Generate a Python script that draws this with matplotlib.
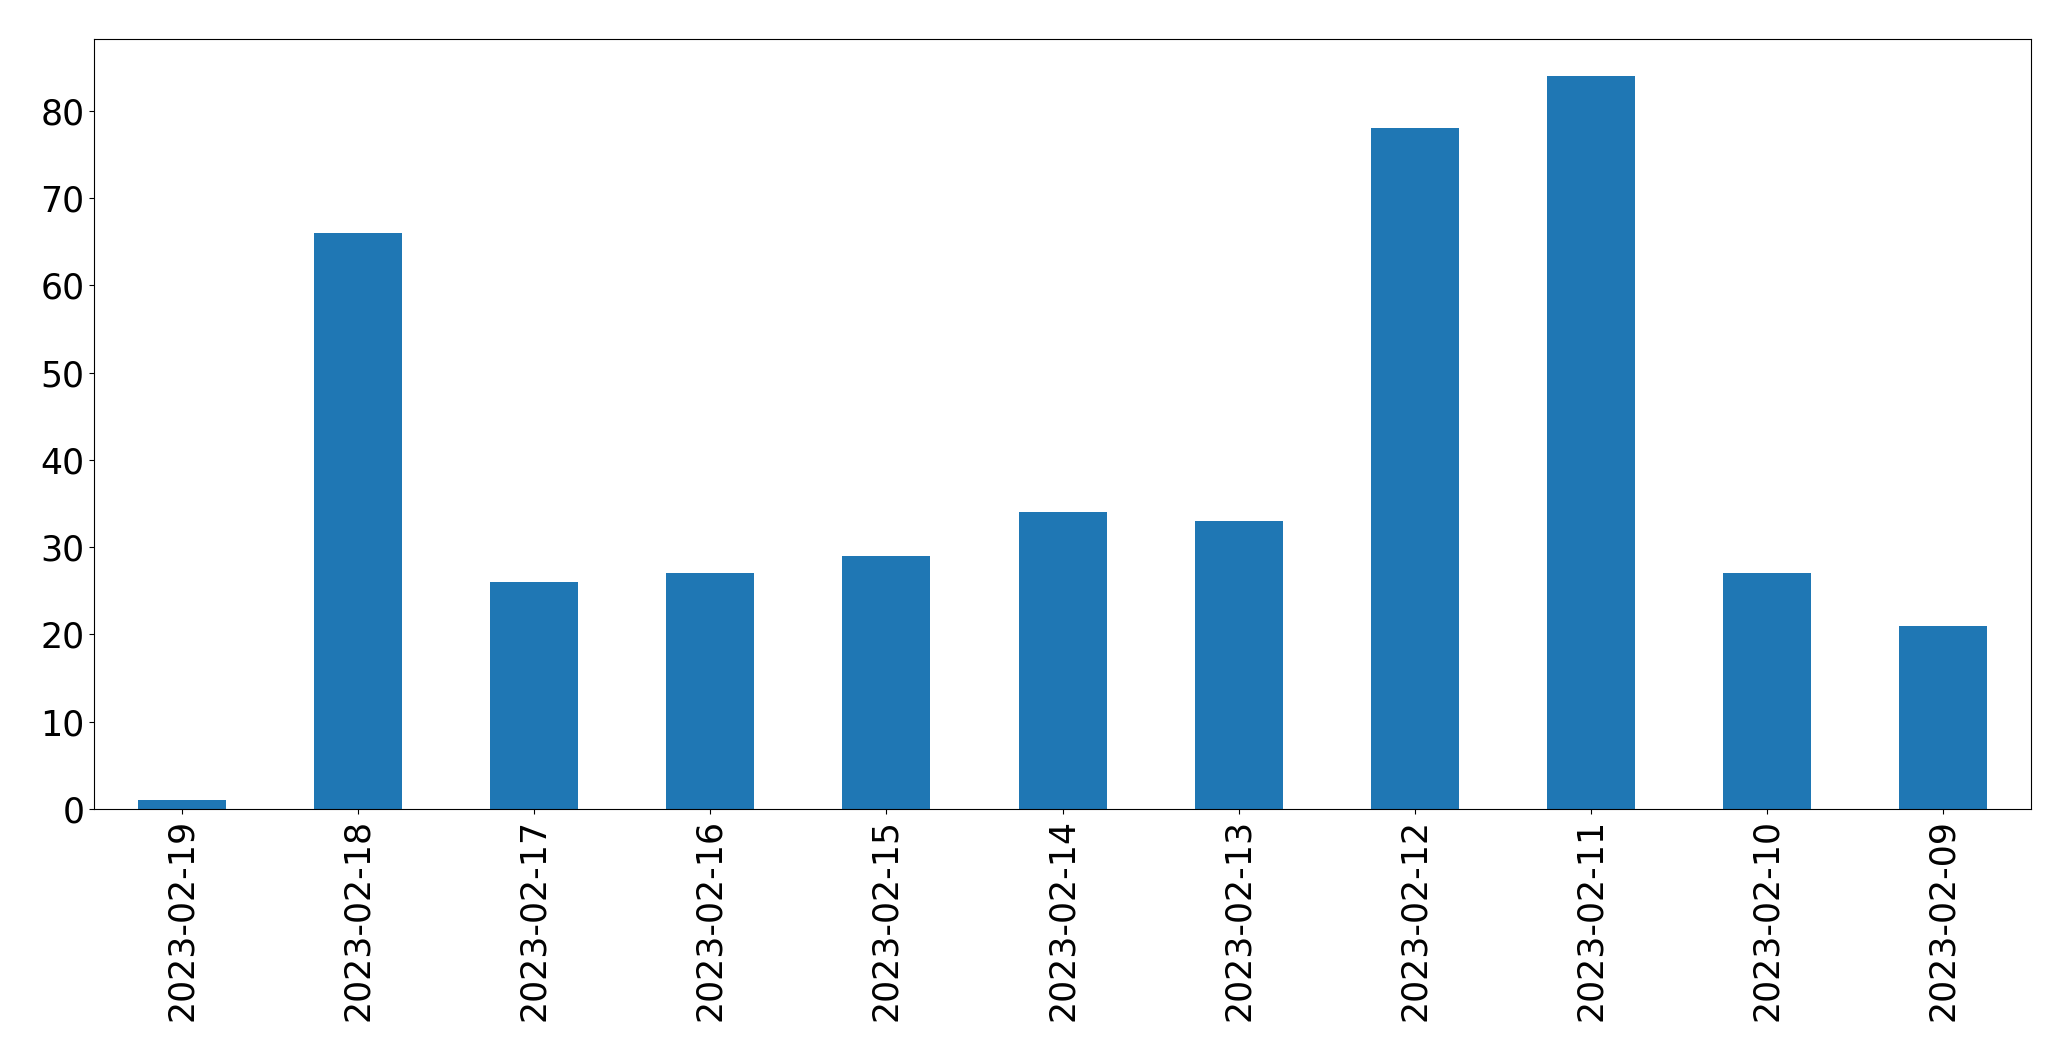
import numpy as np
import matplotlib.pyplot as plt

dates = ['2023-02-19', '2023-02-18', '2023-02-17', '2023-02-16', '2023-02-15',
         '2023-02-14', '2023-02-13', '2023-02-12', '2023-02-11', '2023-02-10',
         '2023-02-09']
counts = [1, 66, 26, 27, 29, 34, 33, 78, 84, 27, 21]

fig, ax = plt.subplots(figsize=(20.71, 10.61), dpi=100)
fig.subplots_adjust(left=0.0454, right=0.9807, top=0.963, bottom=0.2375)

ind = np.arange(len(dates))
ax.bar(ind, counts, 0.5, color='#1f77b4')
ax.set_xlim(-0.5, len(dates) - 0.5)
ax.set_ylim(0, max(counts) * 1.05)
ax.set_xticks(ind)
ax.set_xticklabels(dates, rotation=90)
ax.tick_params(labelsize=25)

plt.savefig("out.png")
